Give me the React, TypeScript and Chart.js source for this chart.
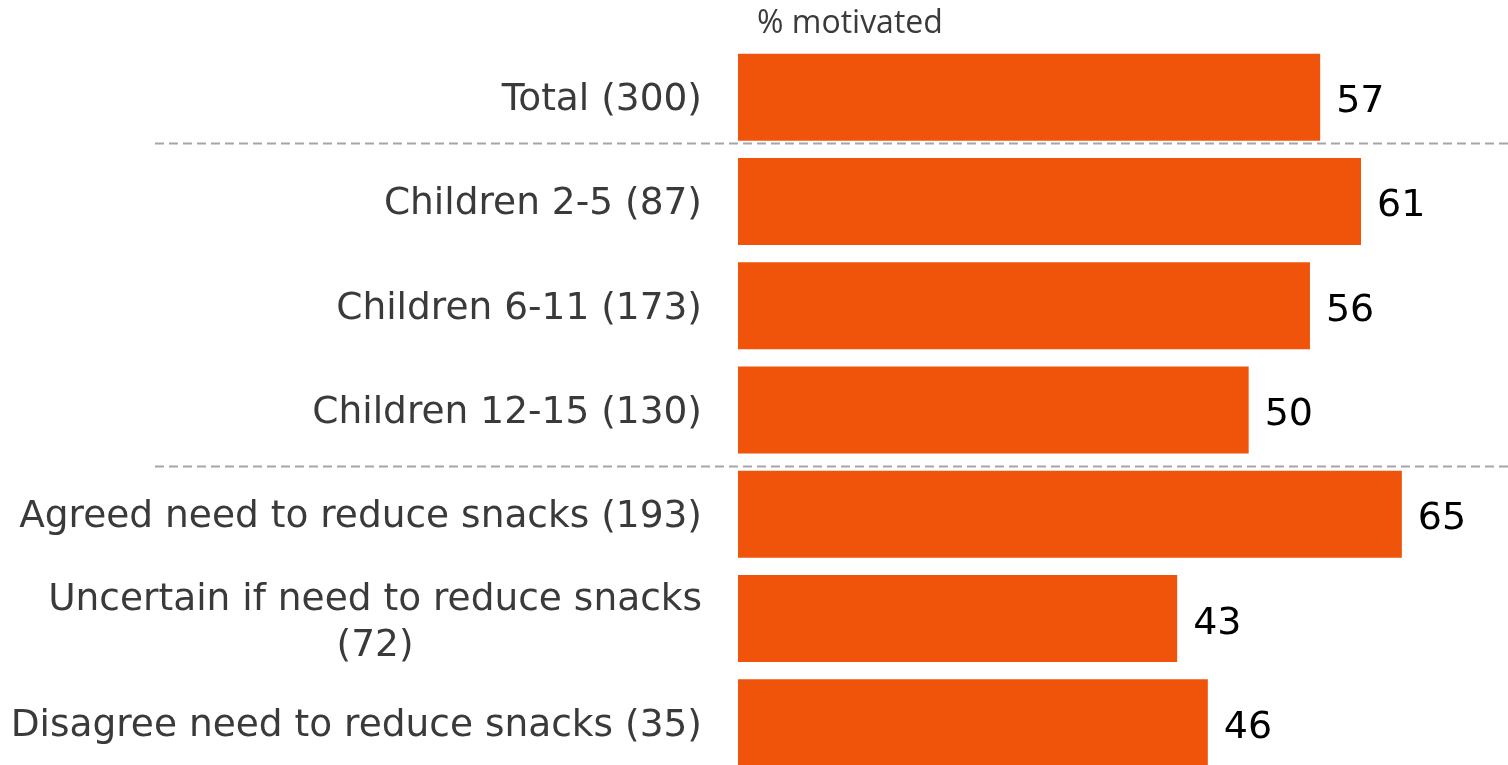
import React, { useEffect, useRef } from "react";
import { Chart, registerables } from "chart.js";

Chart.register(...registerables);

const categories: string[][] = [
  ["Total (300)"],
  ["Children 2-5 (87)"],
  ["Children 6-11 (173)"],
  ["Children 12-15 (130)"],
  ["Agreed need to reduce snacks (193)"],
  ["Uncertain if need to reduce snacks", "(72)"],
  ["Disagree need to reduce snacks (35)"],
];
const motivated: number[] = [57, 61, 56, 50, 65, 43, 46];
const separatorsAfter: number[] = [0, 3];
const axisTitle = "% motivated";

const BAR_COLOR = "#F0530A";
const LABEL_FONT = "37.5px 'DejaVu Sans'";
const VALUE_FONT = "38px 'DejaVu Sans'";

const overlayPlugin = {
  id: "overlay",
  afterDatasetsDraw(chart: any) {
    const { ctx, chartArea, scales } = chart;
    const y = scales.y;
    const meta = chart.getDatasetMeta(0);
    ctx.save();
    ctx.textBaseline = "alphabetic";
    // value labels
    ctx.font = VALUE_FONT;
    ctx.fillStyle = "#000000";
    ctx.textAlign = "left";
    meta.data.forEach((bar: any, i: number) => {
      ctx.fillText(String(motivated[i]), bar.x + 16, bar.y + 15);
    });
    // category labels
    ctx.font = LABEL_FONT;
    ctx.fillStyle = "#3a3a3a";
    const rightX = chartArea.left - 36;
    categories.forEach((lines, i) => {
      const cy = y.getPixelForValue(i);
      if (lines.length === 1) {
        ctx.textAlign = "right";
        ctx.fillText(lines[0], rightX, cy + 13);
      } else {
        const w = ctx.measureText(lines[0]).width;
        ctx.textAlign = "right";
        ctx.fillText(lines[0], rightX, cy - 9);
        ctx.textAlign = "center";
        ctx.fillText(lines[1], rightX - w / 2, cy + 37);
      }
    });
    // separators
    ctx.strokeStyle = "#a6a6a6";
    ctx.lineWidth = 2;
    ctx.setLineDash([9, 5]);
    separatorsAfter.forEach((idx, k) => {
      const py =
        (y.getPixelForValue(idx) + y.getPixelForValue(idx + 1)) / 2 + (k === 0 ? -6 : 4);
      ctx.beginPath();
      ctx.moveTo(155, Math.round(py) + 0.5);
      ctx.lineTo(chart.width, Math.round(py) + 0.5);
      ctx.stroke();
    });
    ctx.setLineDash([]);
    // axis title
    ctx.font = "32px 'Open Sans'";
    ctx.fillStyle = "#3a3a3a";
    ctx.textAlign = "left";
    ctx.fillText(axisTitle, chartArea.left + 19, 33);
    ctx.restore();
  },
};

export default function App() {
  const canvasRef = useRef<HTMLCanvasElement | null>(null);
  useEffect(() => {
    if (!canvasRef.current) return;
    const chart = new Chart(canvasRef.current, {
      type: "bar",
      data: {
        labels: categories.map((c) => c.join(" ")),
        datasets: [
          {
            data: motivated,
            backgroundColor: BAR_COLOR,
            borderWidth: 0,
            categoryPercentage: 1,
            barPercentage: 0.834,
          },
        ],
      },
      options: {
        indexAxis: "y",
        responsive: false,
        animation: false,
        devicePixelRatio: 1,
        layout: { padding: { left: 738, right: 4, top: 45, bottom: 25 } },
        plugins: {
          legend: { display: false },
          tooltip: { enabled: false },
          title: { display: false },
        },
        scales: {
          x: {
            min: 0,
            max: 75,
            display: false,
          },
          y: {
            display: false,
          },
        },
      },
      plugins: [overlayPlugin],
    });
    return () => chart.destroy();
  }, []);
  return (
    <div style={{ position: "fixed", left: 0, top: 0, width: 1508, height: 800, background: "#fff" }}>
      <canvas ref={canvasRef} width={1508} height={800} style={{ display: "block" }} />
    </div>
  );
}
